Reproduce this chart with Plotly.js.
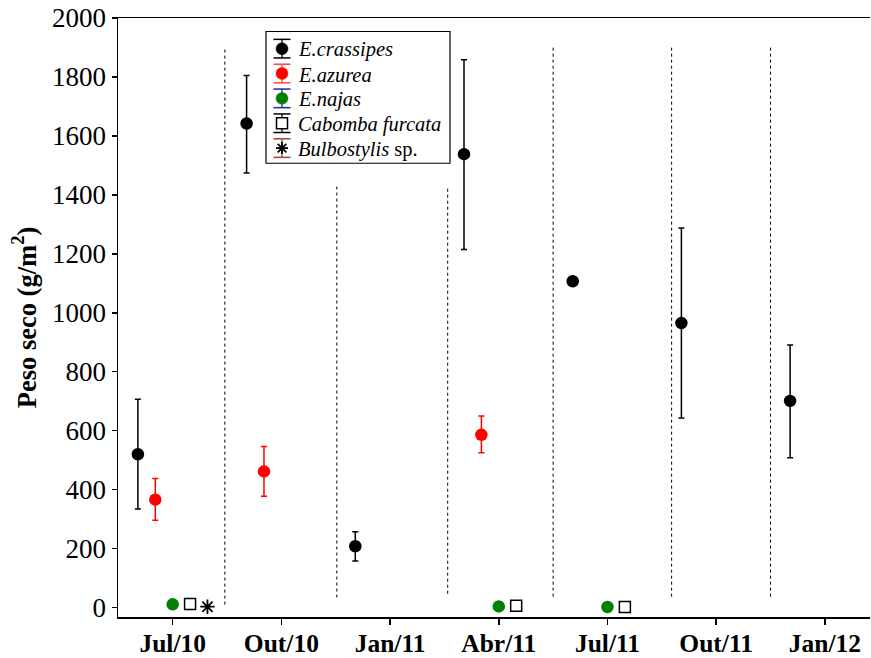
<!DOCTYPE html>
<html>
<head>
<meta charset="utf-8">
<script src="https://cdn.plot.ly/plotly-3.0.1.min.js"></script>
<style>html,body{margin:0;padding:0;background:#fff;}#chart{width:871px;height:658px;}</style>
</head>
<body>
<div id="chart"></div>
<script>
// Categories (sampling dates)
var categories = ["Jul/10", "Out/10", "Jan/11", "Abr/11", "Jul/11", "Out/11", "Jan/12"];

// E. crassipes (mean, upper, lower)
var crassipesIdx   = [0, 1, 2, 3, 4, 5, 6];
var crassipesVal   = [520, 1642, 208, 1538, 1107, 965, 701];
var crassipesUpper = [707, 1805, 257, 1858, 1107, 1288, 891];
var crassipesLower = [334, 1474, 158, 1215, 1107, 643, 508];

// E. azurea
var azureaIdx   = [0, 1, 3];
var azureaVal   = [366, 462, 586];
var azureaUpper = [438, 546, 650];
var azureaLower = [296, 378, 525];

// E. najas
var najasIdx = [0, 3, 4];
var najasVal = [11, 4, 2];

// Cabomba furcata
var cabombaIdx = [0, 3, 4];
var cabombaVal = [12, 6, 2];

// Bulbostylis sp.
var bulboIdx = [0];
var bulboVal = [3];

// Dotted separators between sampling periods
var sepPos    = [0.48, 1.51, 2.53, 3.50, 4.59, 5.50];
var sepTop    = [1903, 1429, 1429, 1903, 1903, 1903];
var sepBottom = [10, 34, 47, 37, 37, 37];

// Legend entries
var legendNames   = ["<i>E.crassipes</i>", "<i>E.azurea</i>", "<i>E.najas</i>", "<i>Cabomba furcata</i>", "<i>Bulbostylis</i> sp."];
var legendSymbols = ["circle", "circle", "circle", "square", "asterisk"];
var legendFill    = ["#000000", "#ff0000", "#008000", "#ffffff", "#000000"];
var legendErrCol  = ["#000000", "#ff4a4a", "#2424a0", "#000000", "#a04040"];

var off = {crassipes: -0.32, azurea: -0.16, najas: 0, cabomba: 0.16, bulbo: 0.32};
var FONT = "Liberation Serif, Times New Roman, serif";

// plot geometry (pixels) used to place the hand-built legend box
var M = {l: 118, r: 1, t: 17.5, b: 40.5}, W = 871, H = 658;
var PW = W - M.l - M.r, PH = H - M.t - M.b;
function px(x) { return (x - M.l) / PW; }
function py(y) { return (H - M.b - y) / PH; }

function shift(idx, o) { return idx.map(function (i) { return i + o; }); }
function diff(a, b) { return a.map(function (v, i) { return Math.abs(v - b[i]); }); }

var traces = [];
// separators
var sx = [], sy = [];
sepPos.forEach(function (p, i) { sx.push(p, p, null); sy.push(sepBottom[i], sepTop[i], null); });
traces.push({x: sx, y: sy, mode: "lines", line: {color: "#000", width: 1.0, dash: "dot"},
  showlegend: false, hoverinfo: "skip"});

traces.push({
  name: legendNames[0], x: shift(crassipesIdx, off.crassipes), y: crassipesVal, mode: "markers",
  marker: {color: "#000", size: 12.5, symbol: "circle"},
  error_y: {type: "data", symmetric: false, array: diff(crassipesUpper, crassipesVal),
    arrayminus: diff(crassipesVal, crassipesLower), color: "#000", thickness: 1.5, width: 3}
});
traces.push({
  name: legendNames[1], x: shift(azureaIdx, off.azurea), y: azureaVal, mode: "markers",
  marker: {color: "#ff0000", size: 12.5, symbol: "circle"},
  error_y: {type: "data", symmetric: false, array: diff(azureaUpper, azureaVal),
    arrayminus: diff(azureaVal, azureaLower), color: "#ff0000", thickness: 1.5, width: 3}
});
traces.push({
  name: legendNames[2], x: shift(najasIdx, off.najas), y: najasVal, mode: "markers",
  marker: {color: "#008000", size: 12.5, symbol: "circle"}
});
traces.push({
  name: legendNames[3], x: shift(cabombaIdx, off.cabomba), y: cabombaVal, mode: "markers",
  marker: {color: "#fff", size: 11, symbol: "square", line: {color: "#000", width: 1.5}}
});
traces.push({
  name: legendNames[4], x: shift(bulboIdx, off.bulbo), y: bulboVal, mode: "markers",
  marker: {color: "#000", size: 12, symbol: "asterisk-open", line: {color: "#000", width: 1.8}}
});

// hand-built legend (box, error-bar glyphs, symbols, labels)
var shapes = [], annotations = [];
var LB = {x0: 266, x1: 450, y0: 31, y1: 163, row0: 48.2, rowGap: 24.9, mx: 282, tx: 297};
shapes.push({type: "rect", xref: "paper", yref: "paper", x0: px(LB.x0), x1: px(LB.x1), y0: py(LB.y1), y1: py(LB.y0),
  line: {color: "#000", width: 1.2}, fillcolor: "#fff", layer: "above"});
legendNames.forEach(function (nm, i) {
  var cy = LB.row0 + i * LB.rowGap, cx = LB.mx, ec = legendErrCol[i];
  function seg(xa, ya, xb, yb, col, w) {
    shapes.push({type: "line", xref: "paper", yref: "paper", x0: px(xa), y0: py(ya), x1: px(xb), y1: py(yb),
      line: {color: col, width: w}});
  }
  seg(cx, cy - 9.3, cx, cy + 9.3, ec, 1.3);
  seg(cx - 8.5, cy - 9.3, cx + 8.5, cy - 9.3, ec, 1.5);
  seg(cx - 8.5, cy + 9.3, cx + 8.5, cy + 9.3, ec, 1.5);
  var s = legendSymbols[i];
  if (s === "circle") {
    shapes.push({type: "circle", xref: "paper", yref: "paper", x0: px(cx - 6), x1: px(cx + 6), y0: py(cy + 6), y1: py(cy - 6),
      fillcolor: legendFill[i], line: {color: legendFill[i], width: 0.5}});
  } else if (s === "square") {
    shapes.push({type: "rect", xref: "paper", yref: "paper", x0: px(cx - 5.5), x1: px(cx + 5.5), y0: py(cy + 5.5), y1: py(cy - 5.5),
      fillcolor: "#fff", line: {color: "#000", width: 1.5}});
  } else {
    var r = 6;
    seg(cx, cy - r, cx, cy + r, "#000", 1.8);
    seg(cx - r, cy, cx + r, cy, "#000", 1.8);
    seg(cx - r * 0.72, cy - r * 0.72, cx + r * 0.72, cy + r * 0.72, "#000", 1.8);
    seg(cx - r * 0.72, cy + r * 0.72, cx + r * 0.72, cy - r * 0.72, "#000", 1.8);
  }
  annotations.push({xref: "paper", yref: "paper", x: px(LB.tx), y: py(cy + 1), xanchor: "left", yanchor: "middle",
    text: nm, showarrow: false, font: {family: FONT, size: 20.5, color: "#000"}, borderpad: 0});
});

var layout = {
  width: W, height: H,
  margin: M,
  paper_bgcolor: "#fff", plot_bgcolor: "#fff",
  font: {family: FONT, color: "#000", size: 26},
  showlegend: false,
  shapes: shapes,
  annotations: annotations,
  xaxis: {
    range: [-0.503, 6.415], tickmode: "array", tickvals: [0, 1, 2, 3, 4, 5, 6], ticktext: categories,
    showgrid: false, zeroline: false, showline: true, linecolor: "#000", linewidth: 1.5, mirror: true,
    ticks: "outside", ticklen: 6, tickwidth: 1.5, tickcolor: "#000", ticklabelstandoff: -3,
    tickfont: {family: FONT, size: 25.5, weight: "bold"}, automargin: false
  },
  yaxis: {
    range: [-32, 2000], tickmode: "linear", tick0: 0, dtick: 200,
    showgrid: false, zeroline: false, showline: true, linecolor: "#000", linewidth: 1.5,
    ticks: "outside", ticklen: 5, tickwidth: 1.5, tickcolor: "#000",
    tickfont: {family: FONT, size: 27}, automargin: false,
    title: {text: "<b>Peso seco (g/m<sup>2</sup>)</b>", font: {family: FONT, size: 26.5}, standoff: 8}
  }
};

Plotly.newPlot("chart", traces, layout, {displayModeBar: false, staticPlot: true});
</script>
</body>
</html>
